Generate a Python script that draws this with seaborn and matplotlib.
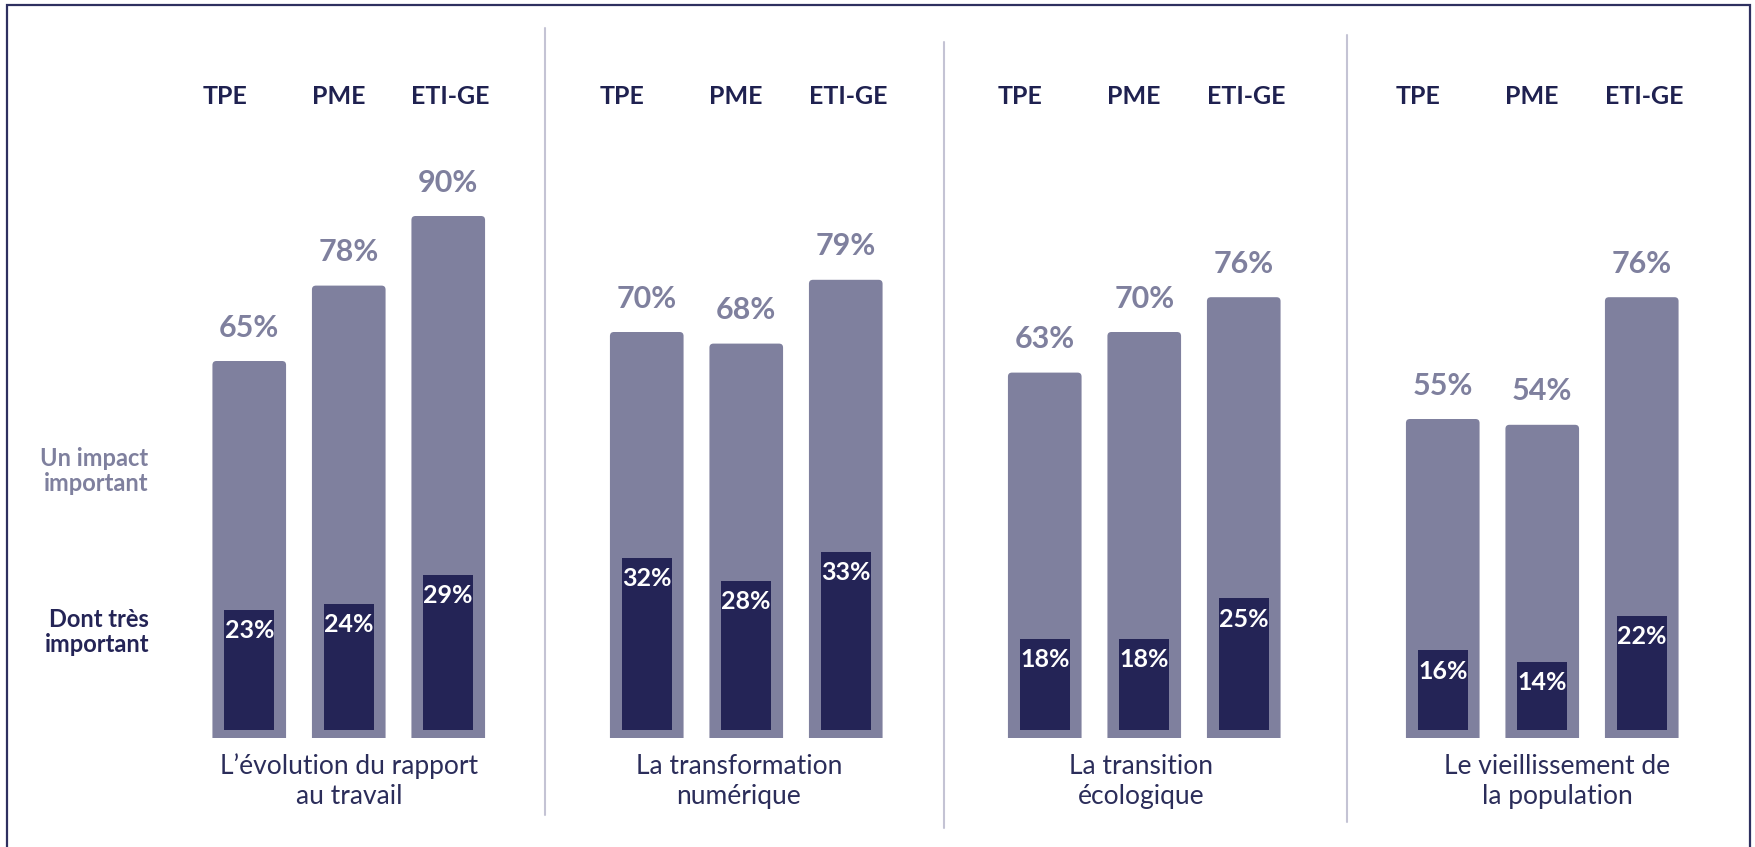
import matplotlib
matplotlib.use("Agg")
import matplotlib.pyplot as plt
import seaborn as sns
import pandas as pd
from matplotlib.lines import Line2D
from matplotlib.patches import Rectangle, FancyBboxPatch

# data
sizes = ["TPE", "PME", "ETI-GE"]
themes = [
    "L\u2019évolution du rapport\nau travail",
    "La transformation\nnumérique",
    "La transition\nécologique",
    "Le vieillissement de\nla population",
]
impact = [[65, 78, 90], [70, 68, 79], [63, 70, 76], [55, 54, 76]]
tres_important = [[23, 24, 29], [32, 28, 33], [18, 18, 25], [16, 14, 22]]

# style
light = "#7f809e"
dark = "#242456"
navy = "#1f2150"
text_navy = "#2b2d5a"
sep_color = "#c4c3d4"
frame_color = "#2e3060"

sns.set_style("white")
plt.rcParams["font.family"] = ["Lato", "DejaVu Sans"]

W, H = 1755, 847
fig = plt.figure(figsize=(W / 100, H / 100), dpi=100)

base_px, top_px = 738, 158
ax_left = [199.5, 597, 995, 1393]
ax_width = 298.5
label_dx = [0, -0.075, -0.035, 0.15]
head_dx = [-0.47, -0.37, -0.37]
inset = 1.4     # light border under the dark bar (in %)
top_gap = 0.9
radius_px = 4

for i in range(4):
    ax = fig.add_axes([ax_left[i] / W, 1 - base_px / H, ax_width / W, (base_px - top_px) / H])
    df = pd.DataFrame({"taille": sizes, "impact": impact[i], "tres": tres_important[i]})
    sns.barplot(data=df, x="taille", y="impact", color=light, width=0.74,
                saturation=1, ax=ax, linewidth=0)
    n_light = len(ax.patches)
    sns.barplot(data=df, x="taille", y="tres", color=dark, width=0.5,
                saturation=1, ax=ax, linewidth=0)
    ax.set_ylim(0, 100)
    ax.set_xlim(-0.5, 2.5)

    # rounded tops on the light bars
    px_x = ax_width / 3
    px_y = (base_px - top_px) / 100
    for p in list(ax.patches[:n_light]):
        x, w, h = p.get_x(), p.get_width(), p.get_height()
        rb = FancyBboxPatch((x, -2), w, h + 2,
                            boxstyle=f"round,pad=0,rounding_size={radius_px / px_x}",
                            mutation_aspect=px_x / px_y, facecolor=light,
                            edgecolor="none", zorder=p.get_zorder())
        p.remove()
        ax.add_patch(rb)
    for p in ax.patches:
        if isinstance(p, Rectangle) and p.get_facecolor()[:3] != matplotlib.colors.to_rgb(light):
            h = p.get_height()
            p.set_y(inset)
            p.set_height(h - inset - top_gap)
            p.set_zorder(3)

    ax.set_xlabel("")
    ax.set_ylabel("")
    ax.set_yticks([])
    sns.despine(ax=ax, left=True, bottom=True)
    ax.xaxis.tick_top()
    ax.set_xticks([j + head_dx[j] for j in range(3)], sizes)
    ax.tick_params(axis="x", length=0, pad=36, labelsize=18, labelcolor=navy)
    for t in ax.get_xticklabels():
        t.set_fontweight("bold")
        t.set_horizontalalignment("left")

    for j, v in enumerate(impact[i]):
        ax.annotate(f"{v}%", (j, v), xytext=(0, 24), textcoords="offset points",
                    ha="center", va="center", fontsize=22, fontweight="bold", color=light)
    for j, v in enumerate(tres_important[i]):
        ax.annotate(f"{v}%", (j, v - top_gap), xytext=(0, -15), textcoords="offset points",
                    ha="center", va="center", fontsize=18, fontweight="bold", color="white",
                    zorder=4)

    ax.annotate(themes[i], xy=(1 + label_dx[i], 0), xycoords=("data", "axes fraction"),
                xytext=(0, -31), textcoords="offset points", ha="center", va="center",
                fontsize=19, color=text_navy, linespacing=1.25)

fig.text(148 / W, 1 - 471 / H, "Un impact\nimportant", ha="right", va="center",
         multialignment="right", fontsize=17, fontweight="bold", color=light, linespacing=1.1)
fig.text(149 / W, 1 - 632 / H, "Dont très\nimportant", ha="right", va="center",
         multialignment="right", fontsize=17, fontweight="bold", color=dark, linespacing=1.1)

# separators between groups
for x, y0, y1 in [(545, 28, 815), (944, 42, 828), (1347, 35, 822)]:
    fig.add_artist(Line2D([x / W, x / W], [1 - y0 / H, 1 - y1 / H], color=sep_color, lw=1.5))

# outer frame
fig.add_artist(Rectangle((7 / W, -0.05), (1750 - 7) / W, 1.05 - 5 / H, fill=False,
                         edgecolor=frame_color, lw=1.6, transform=fig.transFigure))

fig.savefig("out.png", dpi=100)
